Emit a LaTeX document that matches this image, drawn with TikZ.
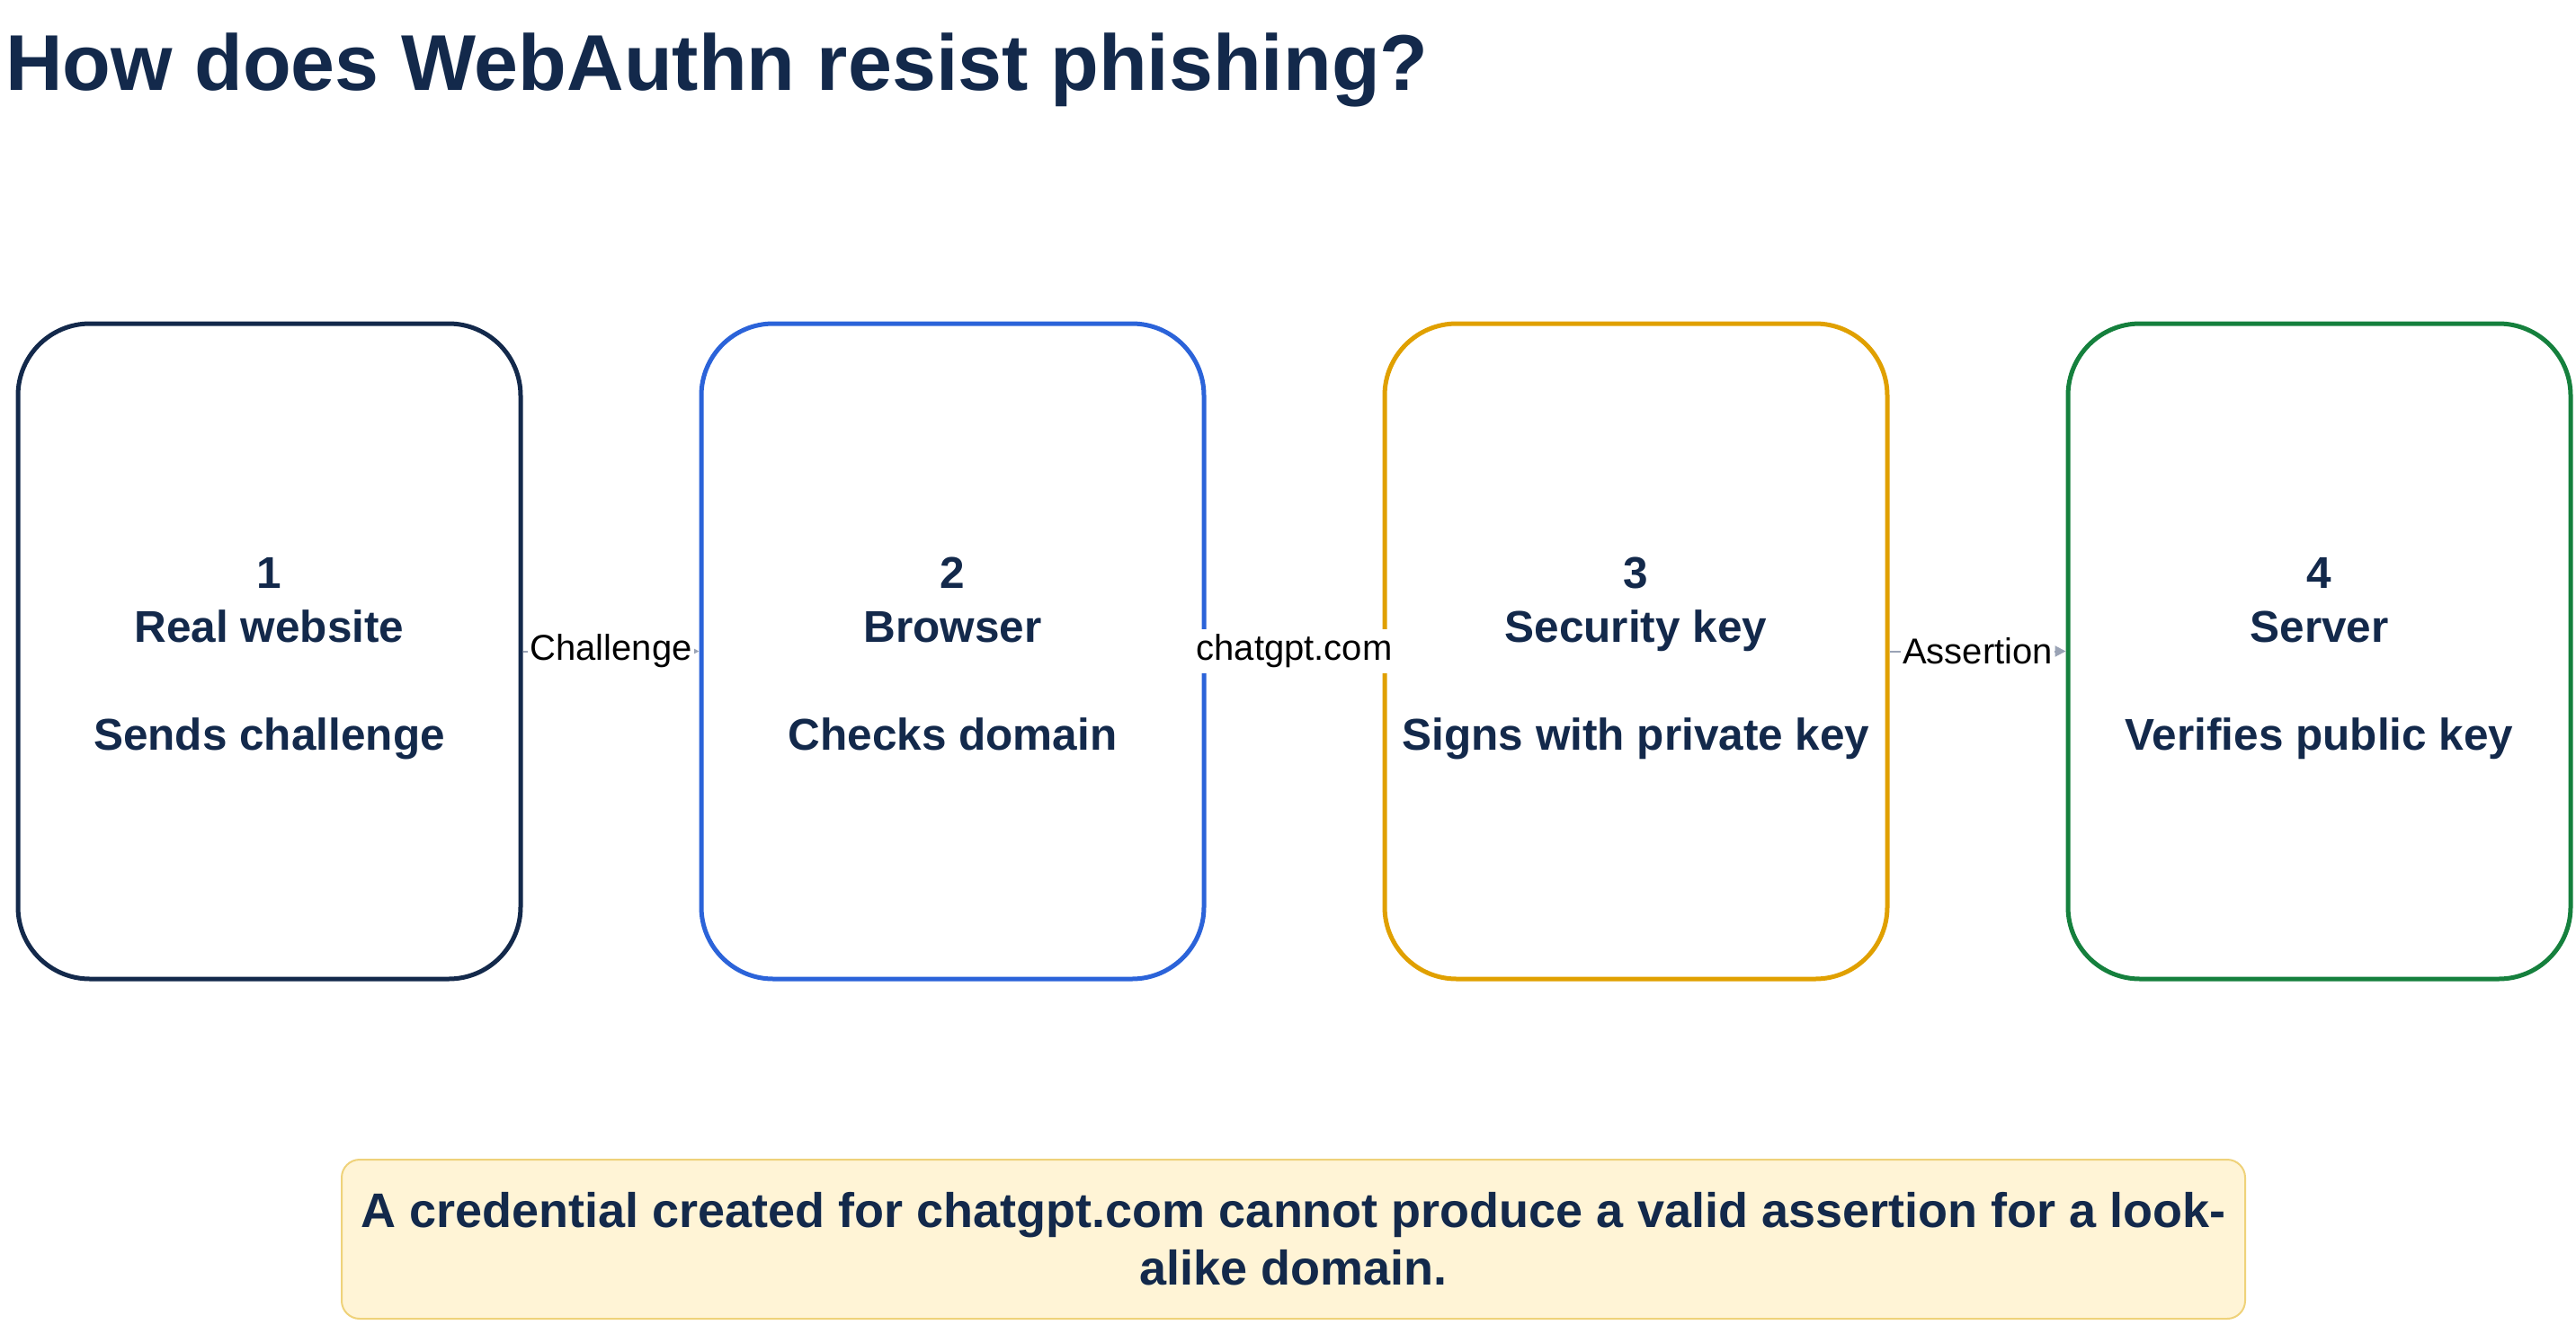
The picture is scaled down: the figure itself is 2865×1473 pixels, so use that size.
\documentclass[tikz,border=0pt]{standalone}
\usepackage{fontspec}
\setmainfont{Liberation Sans}
\usetikzlibrary{arrows.meta}
\definecolor{navy}{HTML}{13294B}
\definecolor{cblue}{HTML}{2B63D9}
\definecolor{corange}{HTML}{E0A000}
\definecolor{cgreen}{HTML}{15803D}
\definecolor{notefill}{HTML}{FFF4D6}
\definecolor{notedraw}{HTML}{EFD27A}
\definecolor{arr}{HTML}{9AA3B5}
\begin{document}
\begin{tikzpicture}[x=1pt,y=-1pt,
  box/.style={draw,line width=5pt,rounded corners=80pt,minimum width=559pt,minimum height=729pt,inner sep=0pt},
  btext/.style={text=navy,font=\fontsize{49.5}{60}\selectfont\bfseries,align=center,yshift=-8pt},
  elab/.style={fill=white,inner sep=2pt,font=\fontsize{40}{44}\selectfont,text=black},
  conn/.style={draw=arr,line width=2pt,-{Triangle[length=12pt,width=12pt]}}]
\useasboundingbox (0,0) rectangle (2865,1473);
\node[anchor=base west,text=navy,font=\fontsize{88}{100}\selectfont\bfseries,inner sep=0pt] (title) at (6,100) {How does WebAuthn resist phishing?};
\node[box,draw=navy] (b1) at (299.5,724.5) {};
\node[box,draw=cblue] (b2) at (1059.5,724.5) {};
\node[box,draw=corange] (b3) at (1819.5,724.5) {};
\node[box,draw=cgreen] (b4) at (2579.5,724.5) {};
\node[btext] (t1) at (b1) {\strut 1\\\strut Real website\\[60pt]\strut Sends challenge};
\node[btext] (t2) at (b2) {\strut 2\\\strut Browser\\[60pt]\strut Checks domain};
\node[btext] (t3) at (b3) {\strut 3\\\strut Security key\\[60pt]\strut Signs with private key};
\node[btext] (t4) at (b4) {\strut 4\\\strut Server\\[60pt]\strut Verifies public key};
\draw[conn] (b1.east) -- node[elab] (l1) {Challenge} (b2.west);
\draw[conn] (b2.east) -- node[elab,inner sep=6pt] (l2) {chatgpt.com} (b3.west);
\draw[conn] (b3.east) -- node[elab] (l3) {Assertion} (b4.west);
\node[draw=notedraw,fill=notefill,line width=2pt,rounded corners=20pt,minimum width=2117pt,minimum height=177pt,text=navy,font=\fontsize{54}{64}\selectfont\bfseries,align=center] (note) at (1438.5,1378.5) {A credential created for chatgpt.com cannot produce a valid assertion for a look-\\alike domain.};
\end{tikzpicture}
\end{document}
